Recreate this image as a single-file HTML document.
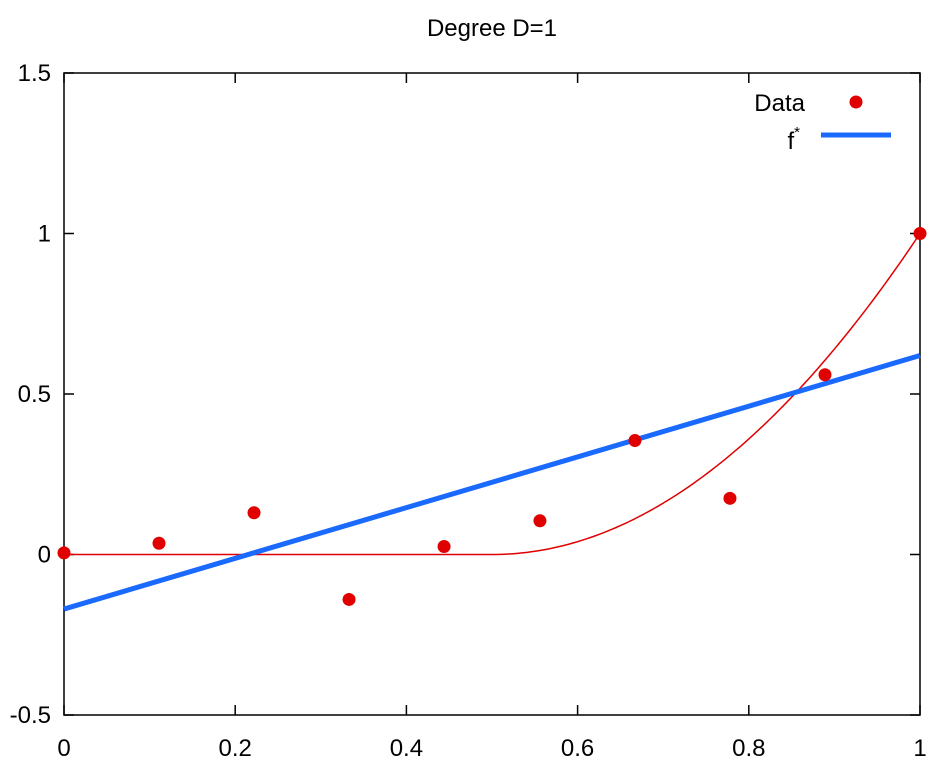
<!DOCTYPE html>
<html><head><meta charset="utf-8"><style>
html,body{margin:0;padding:0;background:#fff;}
svg{display:block;font-family:"Liberation Sans",sans-serif;}
</style></head><body>
<svg id="chart" width="946" height="777" xmlns="http://www.w3.org/2000/svg">
<text x="492" y="36" text-anchor="middle" font-size="24">Degree D=1</text>
<g id="axes"></g>
<g id="marks"></g>
<g>
<text x="805" y="111" text-anchor="end" font-size="24">Data</text>
<circle cx="856" cy="102" r="6.5" fill="#e00000"/>
<text x="800" y="149" text-anchor="end" font-size="24">f<tspan dy="-12" font-size="15">*</tspan></text>
<line x1="821" y1="135" x2="891" y2="135" stroke="#1a6aff" stroke-width="5"/>
</g>
</svg>
<script>
const dataX = [0, 0.111, 0.222, 0.333, 0.444, 0.556, 0.667, 0.778, 0.889, 1.0];
const dataY = [0.005, 0.035, 0.13, -0.14, 0.025, 0.105, 0.355, 0.175, 0.56, 1.0];
const fitIntercept = -0.17;
const fitSlope = 0.79;
const xTicks = [0, 0.2, 0.4, 0.6, 0.8, 1];
const yTicks = [-0.5, 0, 0.5, 1, 1.5];
const xTickLabels = ["0", "0.2", "0.4", "0.6", "0.8", "1"];
const yTickLabels = ["-0.5", "0", "0.5", "1", "1.5"];

const L=64,R=920,T=73,B=715, xmin=0,xmax=1,ymin=-0.5,ymax=1.5;
const sx=v=>L+(v-xmin)/(xmax-xmin)*(R-L);
const sy=v=>B-(v-ymin)/(ymax-ymin)*(B-T);
const NS="http://www.w3.org/2000/svg";
const axes=document.getElementById('axes'), marks=document.getElementById('marks');
function mk(tag,attrs,parent){const e=document.createElementNS(NS,tag);for(const k in attrs)e.setAttribute(k,attrs[k]);parent.appendChild(e);return e;}

const frame=mk('rect',{x:L,y:T,width:R-L,height:B-T,fill:'none',stroke:'#000','stroke-width':1.5},axes);


xTicks.forEach((v,i)=>{
  const x=sx(v);
  const t1=mk('line',{x1:x,y1:B,x2:x,y2:B-10,stroke:'#000','stroke-width':1.5},axes);
  
  
  const t2=mk('line',{x1:x,y1:T,x2:x,y2:T+10,stroke:'#000','stroke-width':1.5},axes);
  
  
  const lb=mk('text',{x:x,y:B+41,'text-anchor':'middle','font-size':24},axes);
  lb.textContent=xTickLabels[i];
  
  
});
yTicks.forEach((v,i)=>{
  const y=sy(v);
  const t1=mk('line',{x1:L,y1:y,x2:L+10,y2:y,stroke:'#000','stroke-width':1.5},axes);
  
  
  const t2=mk('line',{x1:R,y1:y,x2:R-10,y2:y,stroke:'#000','stroke-width':1.5},axes);
  
  
  const lb=mk('text',{x:L-13,y:y+8,'text-anchor':'end','font-size':24},axes);
  lb.textContent=yTickLabels[i];
  
  
});

let d='';
for(let k=0;k<=200;k++){const x=k/200;const t=Math.max(0,2*x-1);const y=t*t;d+=(k?'L':'M')+sx(x).toFixed(2)+' '+sy(y).toFixed(2);}
const curve=mk('path',{d:d,fill:'none',stroke:'#e00000','stroke-width':1.5},marks);



const fit=mk('line',{x1:sx(0),y1:sy(fitIntercept),x2:sx(1),y2:sy(fitIntercept+fitSlope),stroke:'#1a6aff','stroke-width':5},marks);



dataX.forEach((x,i)=>{
  const c=mk('circle',{cx:sx(x),cy:sy(dataY[i]),r:6.5,fill:'#e00000'},marks);
  
  
});
</script>
</body></html>
